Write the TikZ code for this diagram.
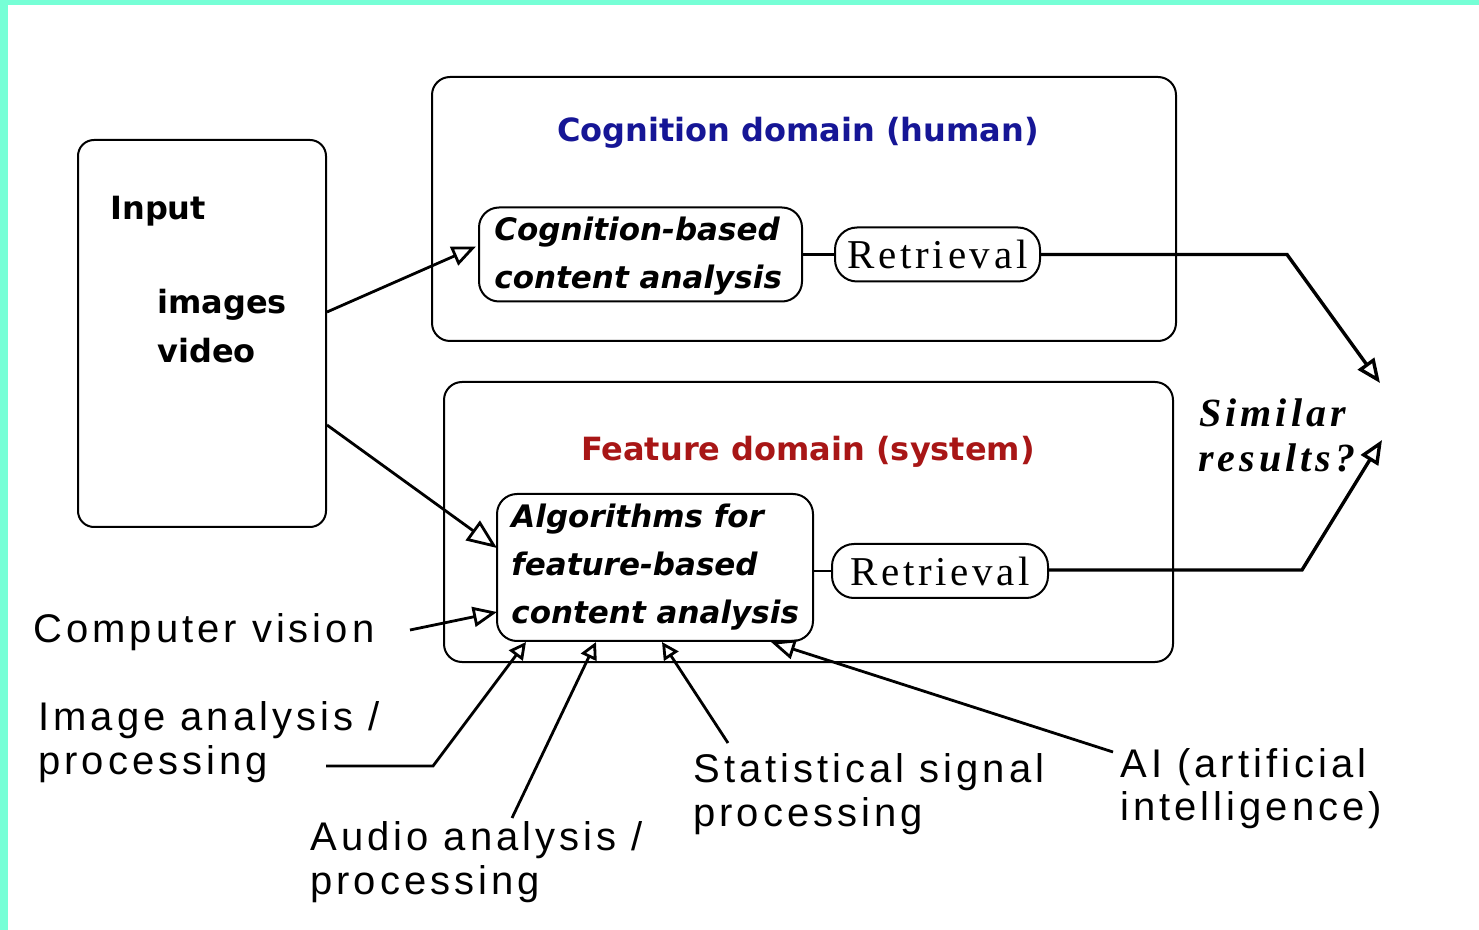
\documentclass[tikz,border=0pt]{standalone}
\usepackage{fontspec}
\usetikzlibrary{arrows.meta}

\newfontfamily\labelfont[LetterSpace=10]{Liberation Sans}
\newfontfamily\headfont{DejaVu Sans}
\newfontfamily\retfont[LetterSpace=9]{Liberation Serif}
\newfontfamily\simfont[LetterSpace=10]{Liberation Serif}

\definecolor{rim}{RGB}{118,255,214}
\definecolor{cogblue}{RGB}{22,22,150}
\definecolor{featred}{RGB}{168,22,22}

\begin{document}
\begin{tikzpicture}[x=0.5pt,y=-0.5pt,
  frame/.style={draw, line width=1pt, inner sep=0pt},
  pill/.style={draw, line width=1pt, rounded corners=11pt, inner sep=0pt,
    minimum height=27pt, font=\retfont\fontsize{20.5}{23}\selectfont},
  hd/.style={inner sep=0pt, font=\headfont\bfseries\fontsize{16}{19}\selectfont},
  bi/.style={inner sep=0pt, anchor=base west,
    font=\headfont\bfseries\itshape\fontsize{15.5}{18}\selectfont},
  lb/.style={inner sep=0pt, anchor=base west,
    font=\labelfont\fontsize{20}{23}\selectfont},
  sim/.style={inner sep=0pt, anchor=base west,
    font=\simfont\bfseries\itshape\fontsize{20}{23}\selectfont},
  arr/.style={line width=1.4pt, -{Triangle[open,length=12pt,width=10pt]}},
  bigarr/.style={line width=1.4pt, -{Triangle[open,length=15pt,width=12pt]}},
  sarr/.style={line width=1.4pt, -{Triangle[open,length=8.5pt,width=8.5pt]}},
  thick line/.style={line width=1.7pt},
]
\useasboundingbox (0,0) rectangle (1479,930);
\fill[white] (0,0) rectangle (1479,930);
% coloured rim along the left and top edges
\fill[rim] (0,0) rectangle (8,930);
\fill[rim] (0,0) rectangle (1479,5);

% outer frames
\node[frame, rounded corners=8pt, minimum width=124pt, minimum height=193.5pt]
  (inbox) at (202,333.5) {};
\node[frame, rounded corners=9pt, minimum width=372pt, minimum height=132pt]
  (cogdom) at (804,209) {};
\node[frame, rounded corners=9pt, minimum width=364.5pt, minimum height=140pt]
  (featdom) at (808.5,522) {};

% input texts
\node[hd, anchor=base west] (inp) at (110,220) {Input};
\node[hd, anchor=base west] (img) at (157,314) {images};
\node[hd, anchor=base west] (vid) at (157,363) {video};

% domain titles
\node[hd, text=cogblue, anchor=base] (cogtitle) at (798,142) {Cognition domain (human)};
\node[hd, text=featred, anchor=base] (feattitle) at (808,461) {Feature domain (system)};

% analysis boxes
\node[frame, rounded corners=10pt, minimum width=161.5pt, minimum height=47pt]
  (cb) at (640.5,254.5) {};
\node[bi] (cbA) at (494,241) {Cognition-based};
\node[bi] (cbB) at (494,289) {content analysis};

\node[frame, rounded corners=10pt, minimum width=158pt, minimum height=73.5pt]
  (alg) at (655,567.5) {};
\node[bi] (algA) at (511,528) {Algorithms for};
\node[bi] (algB) at (511,576) {feature-based};
\node[bi] (algC) at (511,624) {content analysis};

% retrieval pills
\node[pill, minimum width=102.5pt] (ret1) at (937.5,254.5) {Retrieval};
\node[pill, minimum width=108pt] (ret2) at (940,571) {Retrieval};

% comparison label
\node[sim] (simA) at (1199,427) {Similar};
\node[sim] (simB) at (1198,472) {results?};

% source disciplines
\node[lb] (cv) at (33,642) {Computer vision};
\node[lb] (iaA) at (38,730) {Image analysis /};
\node[lb] (iaB) at (38,774) {processing};
\node[lb] (auA) at (310,850) {Audio analysis /};
\node[lb] (auB) at (310,894) {processing};
\node[lb] (stA) at (693,782) {Statistical signal};
\node[lb] (stB) at (693,826) {processing};
\node[lb] (aiA) at (1120,777) {AI (artificial};
\node[lb] (aiB) at (1120,820) {intelligence)};

% bends and tips of the result connectors
\coordinate (bend1) at (1287,254.5);
\coordinate (tip1) at (1380,383);
\coordinate (bend2) at (1302,570);
\coordinate (tip2) at (1382,440);
\coordinate (bendIA) at (433,766);

% input to both analyses
\draw[arr] ([shift={(0,-21.5)}]inbox.east) -- ([shift={(-2,-8)}]cb.west);
\draw[bigarr] ([shift={(0,91.5)}]inbox.east) -- ([shift={(1,-19.5)}]alg.west);

% analyses to retrieval
\draw[line width=1.3pt] (cb.east) -- (ret1.west);
\draw[line width=1.3pt] (alg.east |- ret2.west) -- (ret2.west);

% retrieval results compared
\draw[thick line, -{Triangle[open,length=12pt,width=10pt]}] (ret1.east) -- (bend1) -- (tip1);
\draw[thick line, -{Triangle[open,length=12pt,width=10pt]}] (ret2.east |- bend2) -- (bend2) -- (tip2);

% disciplines feeding the feature-based analysis
\draw[arr] ([shift={(377,-12)}]cv.base west) -- ([shift={(1,44.5)}]alg.west);
\draw[sarr] ([shift={(288,-8)}]iaB.base west) -- (bendIA) -- ([shift={(30,0)}]alg.south west);
\draw[sarr] ([shift={(202,-32)}]auA.base west) -- ([shift={(100,0)}]alg.south west);
\draw[sarr] ([shift={(35,-39)}]stA.base west) -- ([shift={(166,0)}]alg.south west);
\draw[arr] ([shift={(-7,-25)}]aiA.base west) -- ([shift={(275,0)}]alg.south west);
\end{tikzpicture}
\end{document}
